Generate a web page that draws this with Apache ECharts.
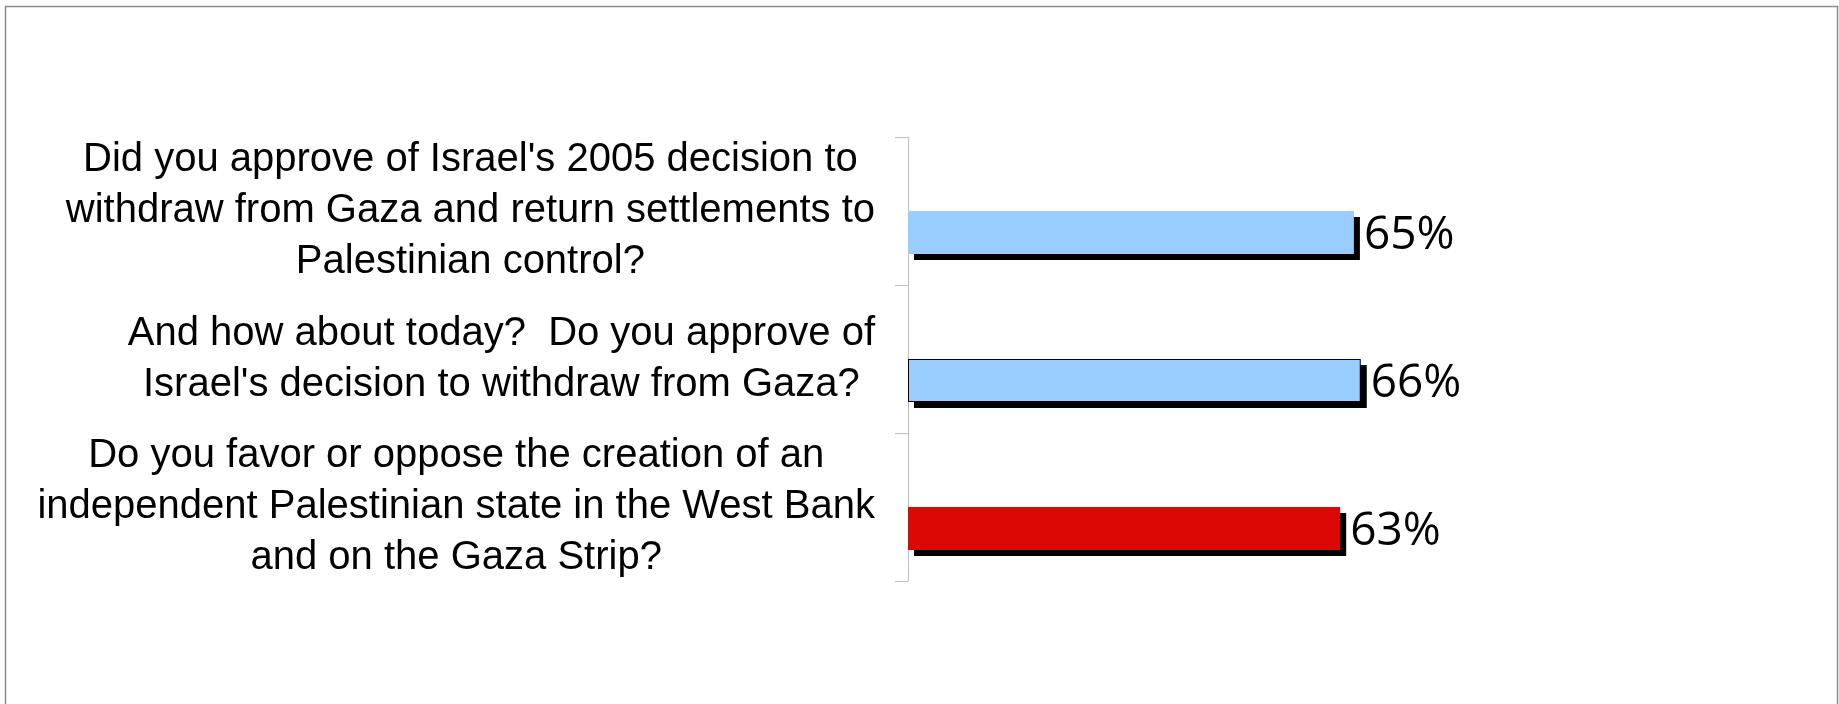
<!DOCTYPE html>
<html>
<head>
<meta charset="utf-8">
<script src="https://cdn.jsdelivr.net/npm/echarts@6/dist/echarts.min.js"></script>
<style>
  html, body { margin: 0; padding: 0; background: #fff; }
  #chart { width: 1839px; height: 704px; }
</style>
</head>
<body>
<div id="chart"></div>
<script>
  // survey questions (top to bottom)
  var questions = [
    "Did you approve of Israel's 2005 decision to\nwithdraw from Gaza and return settlements to\nPalestinian control?",
    "And how about today?  Do you approve of\nIsrael's decision to withdraw from Gaza?",
    "Do you favor or oppose the creation of an\nindependent Palestinian state in the West Bank\nand on the Gaza Strip?"
  ];
  // percent approving / in favour
  var approve = [65, 66, 63];
  var barColors = ['#99ccff', '#99ccff', '#dc0806'];
  var barBorders = [0, 2, 0];

  var chart = echarts.init(document.getElementById('chart'));

  var seriesData = approve.map(function (v, i) {
    return {
      value: v,
      itemStyle: {
        color: barColors[i],
        borderColor: '#000',
        borderWidth: barBorders[i]
      }
    };
  });

  var option = {
    backgroundColor: '#fff',
    animation: false,
    graphic: [{
      type: 'rect',
      shape: { x: 5.5, y: 6.5, width: 1832, height: 800 },
      style: { fill: 'none', stroke: '#8c8c8c', lineWidth: 1.5 },
      silent: true
    }],
    grid: { left: 908, right: 245, top: 137, bottom: 123 },
    xAxis: {
      type: 'value',
      min: 0,
      max: 100,
      show: false
    },
    yAxis: {
      type: 'category',
      inverse: true,
      data: questions,
      axisLine: { show: true, lineStyle: { color: '#bfbfbf', width: 1 } },
      axisTick: { show: true, length: 13, lineStyle: { color: '#bfbfbf' } },
      axisLabel: {
        margin: 33,
        align: 'right',
        color: '#000',
        fontFamily: 'Liberation Sans',
        fontSize: 40,
        lineHeight: 51,
        formatter: function (v) {
          return v.split('\n').map(function (l) { return '{c|' + l + '}'; }).join('\n');
        },
        rich: {
          c: {
            align: 'center',
            color: '#000',
            fontFamily: 'Liberation Sans',
            fontSize: 40,
            lineHeight: 51
          }
        }
      },
      splitLine: { show: false }
    },
    series: [
      {
        // empty slot that fills the upper half of each band
        type: 'bar',
        data: approve.map(function () { return null; }),
        barWidth: 43,
        barGap: '0%'
      },
      {
        type: 'bar',
        data: seriesData,
        barWidth: 43,
        barGap: '0%',
        itemStyle: {
          shadowColor: '#000',
          shadowBlur: 0,
          shadowOffsetX: 6,
          shadowOffsetY: 6
        },
        label: {
          show: true,
          position: 'right',
          distance: 10,
          offset: [0, 3],
          formatter: '{c}%',
          color: '#000',
          fontFamily: 'Open Sans',
          fontSize: 46
        }
      }
    ]
  };

  chart.setOption(option);

  // draw the outlined bar's border under its fill so the shadow stays outside
  try {
    var data = chart.getModel().getSeriesByIndex(1).getData();
    barBorders.forEach(function (b, i) {
      var el = data.getItemGraphicEl(i);
      if (b && el) {
        el.style.strokeFirst = true;
        el.markRedraw();
      }
    });
  } catch (e) {}
</script>
</body>
</html>
